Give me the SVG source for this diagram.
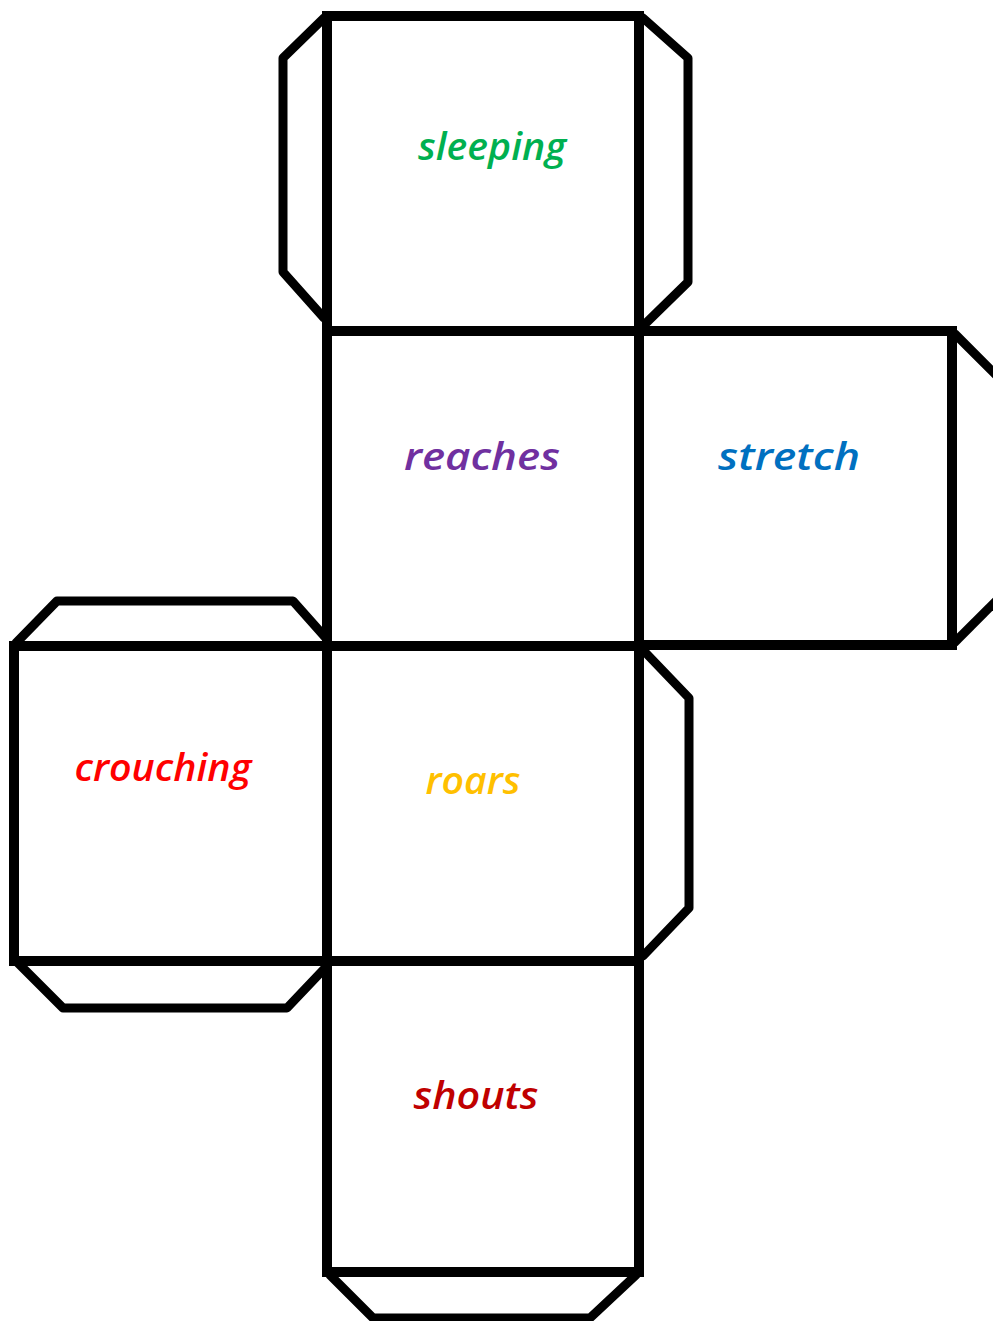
<svg xmlns="http://www.w3.org/2000/svg" width="993" height="1321" viewBox="0 0 993 1321">
<style>
.face{fill:#fff;stroke:#000;stroke-width:10;stroke-linejoin:miter}
.tab{fill:none;stroke:#000;stroke-width:9;stroke-linejoin:round;stroke-linecap:round}
.lbl{font-family:"Open Sans","DejaVu Sans",sans-serif;font-style:italic;font-weight:600;font-size:38px;text-anchor:middle}
</style>
<rect width="993" height="1321" fill="#fff"/>
<g id="connectors">
<polyline class="tab" points="324,18 283,58 283,272 324,318"/>
<polyline class="tab" points="643,18 688,58 688,282 643,326"/>
<polyline class="tab" points="955,334 997,376"/>
<polyline class="tab" points="955,642 997,600"/>
<polyline class="tab" points="16,643 57,601 293,601 325,637"/>
<polyline class="tab" points="18,963 63,1008 287,1008 325,968"/>
<polyline class="tab" points="643,650 689,698 689,908 643,956"/>
<polyline class="tab" points="330,1275 373,1318 590,1318 636,1275"/>
</g>
<g id="face-sleeping">
<rect class="face" x="327" y="16" width="312" height="315"/>
<text class="lbl" x="492" y="160" fill="#00B050" textLength="148" lengthAdjust="spacingAndGlyphs">sleeping</text>
</g>
<g id="face-reaches">
<rect class="face" x="327" y="331" width="312" height="315"/>
<text class="lbl" x="482" y="470" fill="#7030A0" font-size="42" textLength="156" lengthAdjust="spacingAndGlyphs">reaches</text>
</g>
<g id="face-stretch">
<rect class="face" x="639" y="331" width="313" height="314"/>
<text class="lbl" x="789" y="470" fill="#0070C0" font-size="40" textLength="142" lengthAdjust="spacingAndGlyphs">stretch</text>
</g>
<g id="face-crouching">
<rect class="face" x="14" y="646" width="313" height="315"/>
<text class="lbl" x="163" y="781" fill="#FF0000" textLength="177" lengthAdjust="spacingAndGlyphs">crouching</text>
</g>
<g id="face-roars">
<rect class="face" x="327" y="646" width="312" height="315"/>
<text class="lbl" x="473" y="794" fill="#FFC000" textLength="95" lengthAdjust="spacingAndGlyphs">roars</text>
</g>
<g id="face-shouts">
<rect class="face" x="327" y="961" width="312" height="311"/>
<text class="lbl" x="476" y="1109" fill="#C00000" textLength="125" lengthAdjust="spacingAndGlyphs">shouts</text>
</g>
</svg>
